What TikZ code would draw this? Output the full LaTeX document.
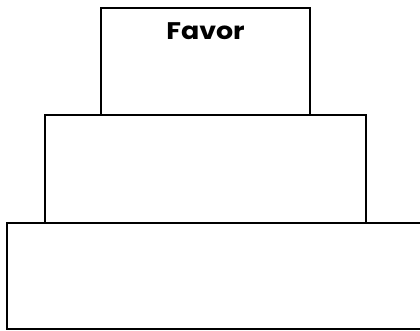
\documentclass[tikz,border=0pt]{standalone}
\usepackage{fontspec}
\newfontfamily\titlefont[FakeStretch=1.12]{Poppins}
\begin{document}
\begin{tikzpicture}[x=1pt,y=-1pt,
  tier/.style={draw=black,line width=2pt,fill=white,inner sep=0pt},
  label/.style={font=\titlefont\bfseries\fontsize{24}{28}\selectfont,inner sep=0pt,anchor=base}]
\useasboundingbox (0,0) rectangle (420,330);
\clip (0,0) rectangle (420,330);
\draw[tier] (7,222.5) rectangle (430,329) coordinate (botc);
\node[tier,minimum width=321pt,minimum height=107.5pt] (mid) at (205.5,168.75) {};
\node[tier,minimum width=209pt,minimum height=107.5pt] (top) at (205.5,61.25) {};
\node[label] (favor) at (205.5,39.3) {Favor};
\end{tikzpicture}
\end{document}
